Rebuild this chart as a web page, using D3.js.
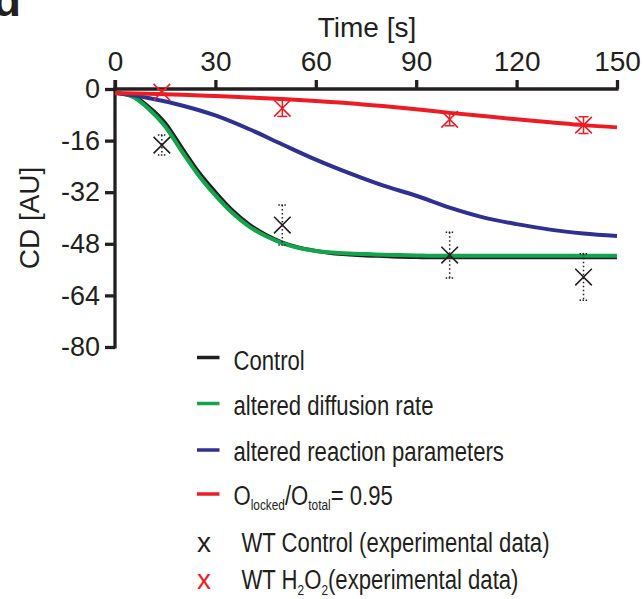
<!DOCTYPE html>
<html>
<head>
<meta charset="utf-8">
<script src="https://cdn.jsdelivr.net/npm/d3@7"></script>
<style>
  html, body { margin: 0; padding: 0; background: #fff; }
  svg { display: block; font-family: "Liberation Sans", Arial, Helvetica, sans-serif; }
</style>
</head>
<body>
<svg id="chart" width="644" height="599"></svg>
<script>
// ---------------- data ----------------
const timeTicks = [0, 30, 60, 90, 120, 150];
const cdTicks = [0, -16, -32, -48, -64, -80];

// model curves, t = 0..150 step 5
const tFine = [0,5,10,15,20,25,30,35,40,45,50,55,60,65,70,75,80,85,90,95,100,105,110,115,120,125,130,135,140,145,150];
const controlSim = [-1.2,-2.0,-5.5,-10.6,-18.3,-25.8,-32.0,-37.6,-42.0,-45.2,-47.6,-49.2,-50.2,-50.9,-51.3,-51.6,-51.8,-52.0,-52.1,-52.2,-52.2,-52.2,-52.2,-52.2,-52.2,-52.2,-52.2,-52.2,-52.2,-52.2,-52.2];
const diffusionSim = [-1.2,-2.3,-6.1,-11.6,-19.4,-26.8,-33.0,-38.4,-42.6,-45.6,-47.8,-49.3,-50.2,-50.7,-51.0,-51.2,-51.4,-51.5,-51.6,-51.7,-51.7,-51.7,-51.7,-51.7,-51.7,-51.7,-51.7,-51.7,-51.7,-51.7,-51.7];

// model curves, t = 0..150 step 10
const tCoarse = [0,10,20,30,40,50,60,70,80,90,100,110,120,130,140,150];
const reactionSim = [-1.2,-2.8,-5.1,-8.2,-12.4,-17.2,-21.9,-26.1,-29.9,-33.1,-36.8,-39.8,-41.9,-43.6,-44.8,-45.6];
const lockedSim = [-1.3,-1.5,-1.8,-2.2,-2.6,-3.1,-3.7,-4.4,-5.3,-6.3,-7.4,-8.4,-9.4,-10.3,-11.2,-11.9];

// experimental data
const expTime = [14, 50, 100, 140];
const wtControl = [-17.4, -42.2, -51.5, -58.3];
const wtControlErr = [3.1, 6.2, 7.1, 7.2];
const wtH2O2 = [-1.0, -6.0, -9.4, -11.2];
const wtH2O2Err = [0.8, 2.5, 2.0, 2.6];

// ---------------- drawing ----------------
const COL = { black: "#231f20", green: "#12a54b", blue: "#2e3192", red: "#ed1c24" };
const svg = d3.select("#chart");

const x = d3.scaleLinear().domain([0, 150]).range([115, 617]);
const y = d3.scaleLinear().domain([0, -80]).range([89, 347]);

// panel letter (cut at top, as in the original figure)
svg.append("text").attr("x", -7).attr("y", 16).attr("font-size", 46).attr("font-weight", "bold")
  .attr("fill", COL.black).text("d");

// title
svg.append("text").attr("x", 367).attr("y", 37).attr("text-anchor", "middle")
  .attr("font-size", 28).attr("fill", COL.black).text("Time [s]");

// x axis at top
const xAxis = d3.axisTop(x).tickValues(timeTicks).tickSize(9).tickPadding(9).tickSizeOuter(0)
  .tickFormat(d => String(d));
const gx = svg.append("g").attr("transform", `translate(0,${y(0)})`).call(xAxis);
gx.select(".domain").attr("stroke", COL.black).attr("stroke-width", 3.3)
  .attr("d", `M${x(0)-1.6},0H${x(150)+1.6}`);
gx.selectAll(".tick line").attr("stroke", COL.black).attr("stroke-width", 3.3);
gx.selectAll(".tick text").attr("font-size", 28).attr("fill", COL.black)
  .attr("font-family", "Liberation Sans, Arial, sans-serif");

// y axis
const yAxis = d3.axisLeft(y).tickValues(cdTicks).tickSize(10).tickPadding(5).tickSizeOuter(0)
  .tickFormat(d => String(d));
const gy = svg.append("g").attr("transform", `translate(${x(0)},0)`).call(yAxis);
gy.select(".domain").attr("stroke", COL.black).attr("stroke-width", 3.3)
  .attr("d", `M0,${y(0)-9}V${y(-80)+1.6}`);
gy.selectAll(".tick line").attr("stroke", COL.black).attr("stroke-width", 3.3);
gy.selectAll(".tick text").attr("font-size", 27).attr("fill", COL.black)
  .attr("font-family", "Liberation Sans, Arial, sans-serif");

// y label
svg.append("text").attr("transform", `translate(39,218) rotate(-90)`).attr("text-anchor", "middle")
  .attr("font-size", 28).attr("fill", COL.black).text("CD [AU]");

// curves
const line = d3.line().x(d => x(d[0])).y(d => y(d[1])).curve(d3.curveMonotoneX);
const plot = svg.append("g");
function curve(ts, vs, color) {
  plot.append("path").datum(ts.map((t, i) => [t, vs[i]]))
    .attr("d", line).attr("fill", "none").attr("stroke", color)
    .attr("stroke-width", 4).attr("stroke-linejoin", "round").attr("stroke-linecap", "butt");
}
curve(tFine, controlSim, COL.black);
curve(tFine, diffusionSim, COL.green);
curve(tCoarse, reactionSim, COL.blue);
curve(tCoarse, lockedSim, COL.red);

// experimental points with error bars
function expSeries(vals, errs, color, dotted) {
  const g = plot.append("g");
  expTime.forEach((t, i) => {
    const cx = x(t), cy = y(vals[i]);
    const y1 = y(vals[i] + errs[i]), y2 = y(vals[i] - errs[i]);
    const capW = dotted ? 4 : 5;
    const dash = dotted ? "1.5,2.5" : null;
    g.append("line").attr("x1", cx).attr("x2", cx).attr("y1", y1).attr("y2", y2)
      .attr("stroke", color).attr("stroke-width", 1.5).attr("stroke-dasharray", dash);
    [y1, y2].forEach(yy => g.append("line").attr("x1", cx - capW).attr("x2", cx + capW)
      .attr("y1", yy).attr("y2", yy).attr("stroke", color).attr("stroke-width", 1.5)
      .attr("stroke-dasharray", dotted ? "1.5,1.5" : null));
    const s = 8.3;
    g.append("path").attr("d", `M${cx-s},${cy-s}L${cx+s},${cy+s}M${cx-s},${cy+s}L${cx+s},${cy-s}`)
      .attr("stroke", color).attr("stroke-width", 1.6).attr("fill", "none");
  });
}
expSeries(wtControl, wtControlErr, COL.black, true);
expSeries(wtH2O2, wtH2O2Err, COL.red, false);

// legend
const legendLines = [
  { color: COL.black, y: 357.5, base: 369.5, parts: [["Control"]] },
  { color: COL.green, y: 403.5, base: 415, parts: [["altered diffusion rate"]] },
  { color: COL.blue, y: 450, base: 460.5, parts: [["altered reaction parameters"]] },
  { color: COL.red, y: 494, base: 505, parts: [["O"], ["locked", "sub"], ["/O"], ["total", "sub"], ["= 0.95"]] }
];
const leg = svg.append("g");
legendLines.forEach(d => {
  leg.append("line").attr("x1", 197).attr("x2", 219.5).attr("y1", d.y).attr("y2", d.y)
    .attr("stroke", d.color).attr("stroke-width", 3.5);
  const t = leg.append("text").attr("transform", `translate(233.5,${d.base}) scale(0.79,1)`)
    .attr("font-size", 28).attr("fill", COL.black);
  d.parts.forEach(p => {
    const ts = t.append("tspan").text(p[0]);
    if (p[1] === "sub") ts.attr("font-size", 15).attr("dy", 5);
    else if (p !== d.parts[0]) ts.attr("dy", -5);
  });
});

const markerRows = [
  { color: COL.black, base: 551.5, parts: [["WT Control (experimental data)"]] },
  { color: COL.red, base: 588.5, parts: [["WT H"], ["2", "sub"], ["O"], ["2", "sub"], ["(experimental data)"]] }
];
markerRows.forEach(d => {
  leg.append("text").attr("x", 197).attr("y", d.base).attr("font-size", 28)
    .attr("fill", d.color).text("x");
  const t = leg.append("text").attr("transform", `translate(241.5,${d.base}) scale(0.79,1)`)
    .attr("font-size", 28).attr("fill", COL.black);
  d.parts.forEach(p => {
    const ts = t.append("tspan").text(p[0]);
    if (p[1] === "sub") ts.attr("font-size", 15).attr("dy", 6);
    else if (p !== d.parts[0]) ts.attr("dy", -6);
  });
});
</script>
</body>
</html>
